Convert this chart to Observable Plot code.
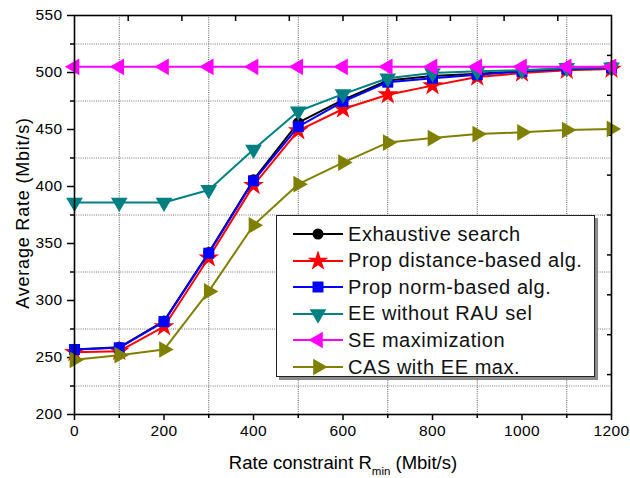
<!DOCTYPE html>
<html>
<head>
<meta charset="utf-8">
<script src="https://cdn.jsdelivr.net/npm/d3@7"></script>
<script src="https://cdn.jsdelivr.net/npm/@observablehq/plot@0.6"></script>
<style>
  html, body { margin: 0; padding: 0; background: #fff; }
  body { font-family: "Liberation Sans", Arial, sans-serif; }
  #wrap { position: relative; width: 630px; height: 478px; }
  #legend { position: absolute; left: 276px; top: 215px; width: 317px; height: 160px;
    border: 1px solid #222; background: #fff; box-shadow: 3px 3px 0 #8a8a8a; box-sizing: content-box; }
  .row { position: absolute; left: 0; height: 26px; display: flex; align-items: center; }
  .row svg { margin-left: 16px; }
  .row span { margin-left: 5px; font-size: 20px; letter-spacing: 0.55px; color: #111; white-space: nowrap; }
</style>
</head>
<body>
<div id="wrap"></div>
<script>
// ---- data ----
const rateConstraint = [0, 100, 200, 300, 400, 500, 600, 700, 800, 900, 1000, 1100, 1200];
const exhaustive = [257, 259, 282, 342, 406, 456, 476, 493, 497, 499, 501, 503, 504];
const propDistance = [254.5, 255.5, 277, 337.5, 401, 449, 468, 480.5, 488.5, 496, 499.5, 502, 503];
const propNorm = [257, 258.5, 281.5, 341.5, 405, 452.5, 474.5, 491.5, 495, 498, 501, 503, 504];
const eeNoSel = [386, 386, 386, 397, 432.5, 466, 481, 495, 499.5, 501, 502, 504, 504.5];
const seMax = [505, 505, 505, 505, 505, 505, 505, 505, 505, 505, 505, 505, 505];
const casEE = [248, 252, 257, 308, 366, 402, 421, 438.5, 442.5, 446, 447.5, 449.5, 450.5];

const seriesNames = ["Exhaustive search", "Prop distance-based alg.", "Prop norm-based alg.",
  "EE without RAU sel", "SE maximization", "CAS with EE max."];
const seriesValues = [exhaustive, propDistance, propNorm, eeNoSel, seMax, casEE];
const seriesColors = ["#000000", "#ff0000", "#0000ff", "#008080", "#ff00ff", "#808000"];
const seriesSymbols = ["circle", "star", "square", "triangle", "triangle", "triangle"];
const seriesRotate = [0, 0, 0, 180, -90, 90];
const seriesR = [5.5, 6.5, 6.2, 6.2, 6.2, 6.2];

const xTicks = [0, 200, 400, 600, 800, 1000, 1200];
const xMinor = [100, 300, 500, 700, 900, 1100];
const yTicks = [200, 250, 300, 350, 400, 450, 500, 550];
const yMinor = [225, 275, 325, 375, 425, 475, 525];
const topTicks = [120, 240, 360, 480, 600, 720, 840, 960, 1080];
const rightTicks = [235, 270, 305, 340, 375, 410, 445, 480, 515];

// ---- build table ----
const table = [];
seriesNames.forEach((name, i) => {
  rateConstraint.forEach((x, j) => table.push({series: name, idx: i, x, y: seriesValues[i][j]}));
});

const lineMarks = [];
seriesNames.forEach((name, i) => {
  const d = table.filter(t => t.idx === i);
  lineMarks.push(Plot.line(d, {x: "x", y: "y", stroke: seriesColors[i], strokeWidth: 2}));
  lineMarks.push(Plot.dot(d, {x: "x", y: "y", symbol: seriesSymbols[i], fill: seriesColors[i],
    stroke: "none", r: seriesR[i], rotate: seriesRotate[i]}));
});

const font = "Liberation Sans, Arial, sans-serif";
const fmt = d3.format("d");
const chart = Plot.plot({
  width: 630, height: 478,
  marginLeft: 74, marginRight: 19, marginTop: 15, marginBottom: 64,
  style: {fontFamily: font, fontSize: "15.5px", color: "#000", background: "#fff", letterSpacing: "0.4px"},
  x: {domain: [0, 1200]},
  y: {domain: [200, 550]},
  marks: [
    Plot.ruleX(xMinor, {stroke: "#555", strokeDasharray: "1,1.2", strokeWidth: 1}),
    Plot.ruleY(yMinor, {stroke: "#777", strokeDasharray: "1,1.2", strokeWidth: 1}),
    Plot.axisX(xTicks, {anchor: "bottom", tickSize: 6, tickPadding: 4, tickFormat: fmt, label: null, strokeWidth: 1.5}),
    Plot.axisX(xMinor, {anchor: "bottom", tickSize: 4, tickFormat: () => "", label: null, strokeWidth: 1.5}),
    Plot.axisX(topTicks, {anchor: "top", tickSize: -5, tickFormat: () => "", label: null, strokeWidth: 1.5}),
    Plot.axisY(yTicks, {anchor: "left", tickSize: 7, tickPadding: 5, tickFormat: fmt, label: null, strokeWidth: 1.5}),
    Plot.axisY(yMinor, {anchor: "left", tickSize: 4, tickFormat: () => "", label: null, strokeWidth: 1.5}),
    Plot.axisY(rightTicks, {anchor: "right", tickSize: -5, tickFormat: () => "", label: null, strokeWidth: 1.5}),
    ...lineMarks,
    Plot.frame({stroke: "#000", strokeWidth: 1.6})
  ]
});
document.getElementById("wrap").appendChild(chart);

// axis titles
const svg = d3.select(chart);
const xt = svg.append("text")
  .attr("x", 343).attr("y", 469)
  .attr("text-anchor", "middle")
  .attr("font-family", font).attr("font-size", 18.5).attr("letter-spacing", 0).attr("fill", "#000");
xt.append("tspan").text("Rate constraint R");
xt.append("tspan").attr("font-size", 11.5).attr("dy", 6).text("min");
xt.append("tspan").attr("dy", -6).text(" (Mbit/s)");
svg.append("text")
  .attr("transform", "translate(29,213) rotate(-90)")
  .attr("text-anchor", "middle")
  .attr("font-family", font).attr("font-size", 18).attr("letter-spacing", 0.8).attr("fill", "#000")
  .text("Average Rate (Mbit/s)");

// legend
const legend = d3.select("#wrap").append("div").attr("id", "legend");
seriesNames.forEach((name, i) => {
  const row = legend.append("div").attr("class", "row").style("top", (5 + i * 26.6) + "px");
  const s = row.append("svg").attr("width", 50).attr("height", 20);
  s.append("line").attr("x1", 0).attr("x2", 50).attr("y1", 10).attr("y2", 10)
    .attr("stroke", seriesColors[i]).attr("stroke-width", 2);
  const sym = {circle: d3.symbolCircle, star: d3.symbolStar, square: d3.symbolSquare, triangle: d3.symbolTriangle}[seriesSymbols[i]];
  s.append("path").attr("d", d3.symbol(sym, Math.PI * seriesR[i] * seriesR[i])())
    .attr("transform", `translate(25,10) rotate(${seriesRotate[i]})`)
    .attr("fill", seriesColors[i]);
  row.append("span").text(name);
});
</script>
</body>
</html>
